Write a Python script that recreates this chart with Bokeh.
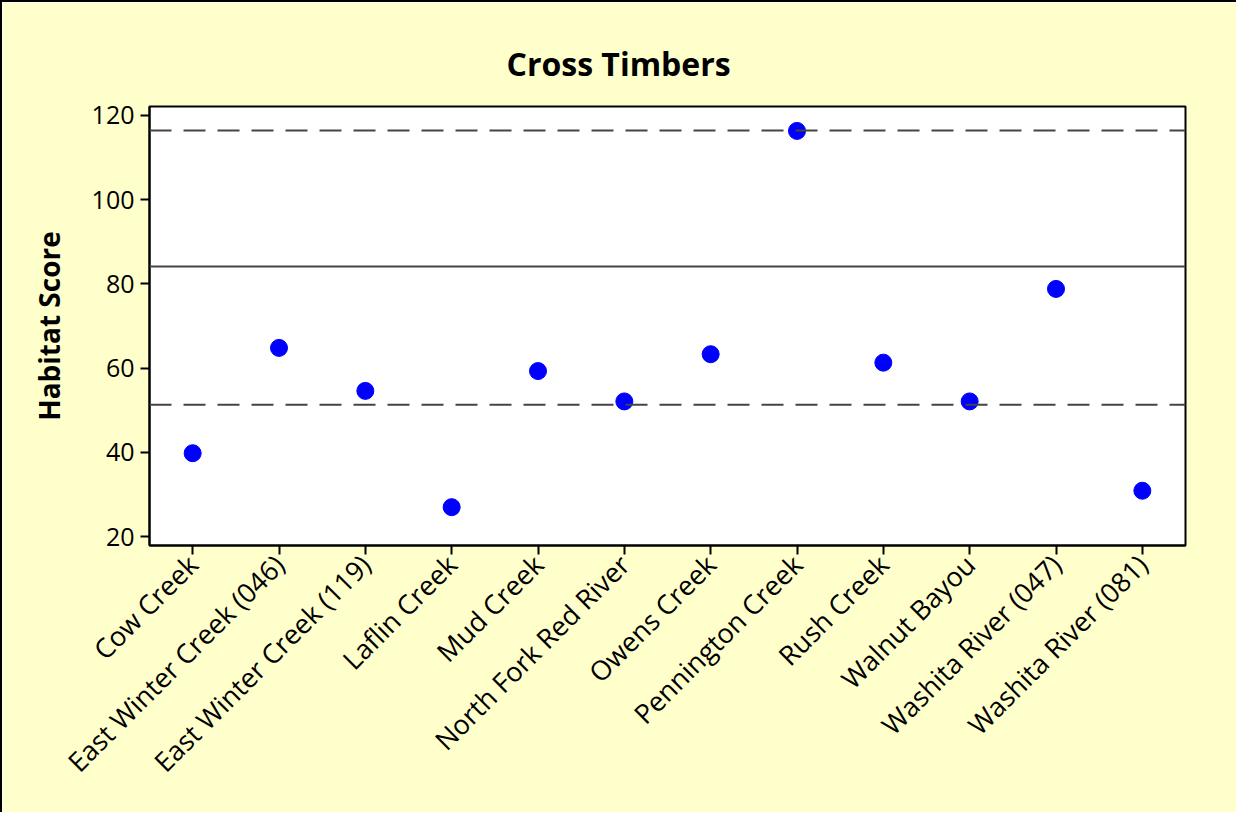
import math
from bokeh.plotting import figure
from bokeh.models import FactorRange, Range1d, FixedTicker, Span
from bokeh.embed import file_html
from bokeh.resources import INLINE

# ---- data ----
sites = ["Cow Creek", "East Winter Creek (046)", "East Winter Creek (119)", "Laflin Creek",
         "Mud Creek", "North Fork Red River", "Owens Creek", "Pennington Creek",
         "Rush Creek", "Walnut Bayou", "Washita River (047)", "Washita River (081)"]
habitat_scores = [39.8, 64.8, 54.6, 27.0, 59.3, 52.1, 63.3, 116.3, 61.3, 52.1, 78.8, 30.9]
upper_limit = 116.4
center_line = 84.1
lower_limit = 51.3
y_ticks = [20, 40, 60, 80, 100, 120]
title_text = "Cross Timbers"
y_label = "Habitat Score"

FONT = "Open Sans"

p = figure(x_range=FactorRange(*sites), y_range=Range1d(17.9, 122.1),
           frame_width=1036, frame_height=439,
           min_border_left=147, min_border_right=51, min_border_top=104, min_border_bottom=267,
           output_backend="svg", toolbar_location=None, title=title_text)

p.styles = {"border-left": "2px solid black", "border-top": "2px solid black"}

p.background_fill_color = "white"
p.border_fill_color = "#FFFFCC"
p.outline_line_color = "black"
p.outline_line_width = 2

p.title.text_font = FONT
p.title.text_font_style = "bold"
p.title.text_font_size = "32px"
p.title.text_color = "black"
p.title.align = "left"
p.title.offset = 357
p.title.standoff = 43

p.xgrid.visible = False
p.ygrid.visible = False

for ax in (p.xaxis[0], p.yaxis[0]):
    ax.axis_line_color = "black"
    ax.axis_line_width = 2
    ax.major_tick_line_color = "black"
    ax.major_tick_line_width = 2
    ax.major_tick_in = 0
    ax.major_tick_out = 9
    ax.minor_tick_in = 0
    ax.minor_tick_out = 0
    ax.major_label_text_font = FONT
    ax.major_label_text_color = "black"

p.yaxis.major_label_text_font_size = "25px"
p.xaxis.major_label_text_font_size = "27px"

p.yaxis.ticker = FixedTicker(ticks=y_ticks)
p.yaxis.major_label_standoff = 6
p.yaxis.axis_label = y_label
p.yaxis.axis_label_text_font = FONT
p.yaxis.axis_label_text_font_style = "bold"
p.yaxis.axis_label_text_font_size = "28px"
p.yaxis.axis_label_text_color = "black"
p.yaxis.axis_label_standoff = 21

p.xaxis.major_label_orientation = math.pi / 4
p.xaxis.major_label_standoff = 5

for loc, dash in ((upper_limit, "22 12"), (lower_limit, "22 12"), (center_line, "solid")):
    p.add_layout(Span(location=loc, dimension="width", line_color="#444444",
                      line_width=2, line_dash=dash))

p.scatter(sites, habitat_scores, size=17, color="#0000FF", line_color="#0000FF")

open("out.html", "w").write(file_html(p, INLINE))
